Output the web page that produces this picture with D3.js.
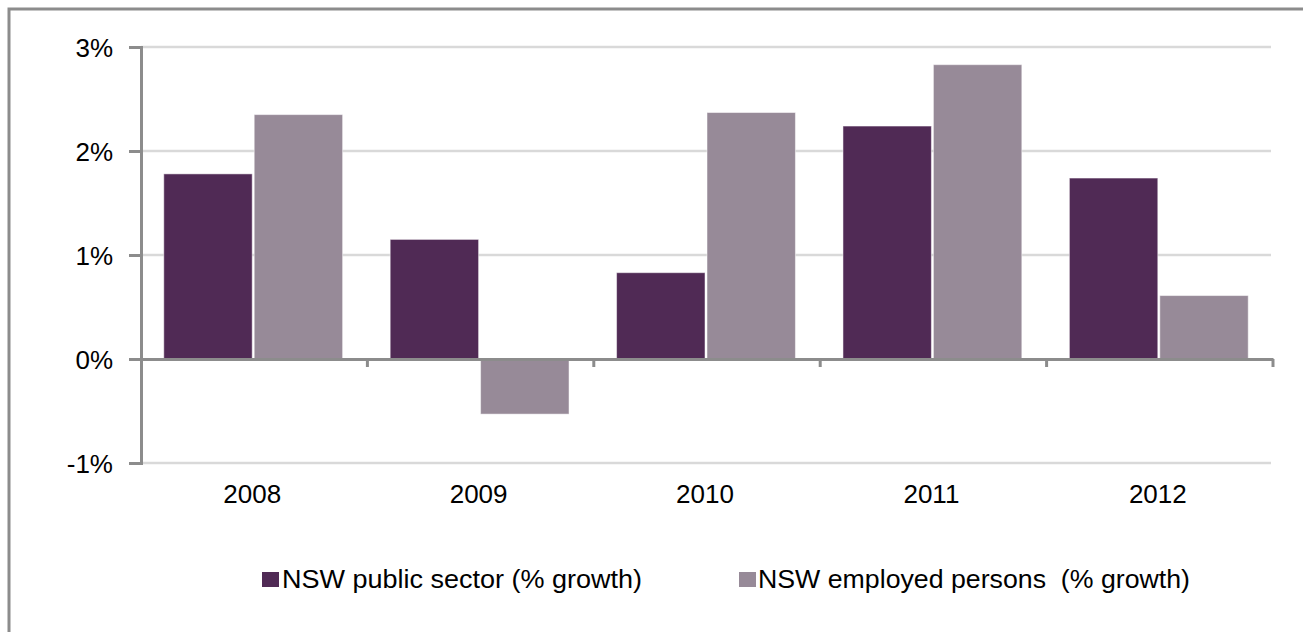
<!DOCTYPE html>
<html>
<head>
<meta charset="utf-8">
<script src="https://cdn.jsdelivr.net/npm/d3@7"></script>
<style>
  html, body { margin: 0; padding: 0; background: #fff; }
  svg { display: block; font-family: "Liberation Sans", Arial, sans-serif; }
</style>
</head>
<body>
<svg id="chart" width="1303" height="632"></svg>
<script>
// Annual growth, NSW
const years = ["2008", "2009", "2010", "2011", "2012"];
const publicSector = [1.78, 1.15, 0.83, 2.24, 1.74];
const employedPersons = [2.35, -0.53, 2.37, 2.83, 0.61];
const seriesNames = ["NSW public sector (% growth)", "NSW employed persons  (% growth)"];
const seriesColors = ["#502a55", "#978a98"];
const yTicks = [-1, 0, 1, 2, 3];

const svg = d3.select("#chart");

// outer frame
svg.append("rect")
  .attr("x", 9).attr("y", 9)
  .attr("width", 1400).attr("height", 800)
  .attr("fill", "none").attr("stroke", "#8c8c8c").attr("stroke-width", 3);

const plotLeft = 141, plotRight = 1273, plotTop = 47, plotBottom = 463;

const y = d3.scaleLinear().domain([-1, 3]).range([plotBottom, plotTop]);
const x0 = d3.scaleBand().domain(years).range([plotLeft - 1, plotRight - 1]).paddingInner(0.21).paddingOuter(0.105);
const x1 = d3.scaleBand().domain([0, 1]).range([0, x0.bandwidth()]).paddingInner(0.022);
const xCat = d3.scaleBand().domain(years).range([plotLeft, plotRight]);

// gridlines
svg.append("g").selectAll("line")
  .data(yTicks.filter(d => d !== 0))
  .join("line")
  .attr("x1", plotLeft).attr("x2", plotRight - 2)
  .attr("y1", d => y(d)).attr("y2", d => y(d))
  .attr("stroke", "#d9d9d9").attr("stroke-width", 2.5);

// bars
const rows = years.map((yr, i) => ({ yr, vals: [publicSector[i], employedPersons[i]] }));
const groups = svg.append("g").selectAll("g")
  .data(rows).join("g")
  .attr("transform", d => `translate(${x0(d.yr)},0)`);
groups.selectAll("rect")
  .data(d => d.vals.map((v, k) => ({ v, k })))
  .join("rect")
  .attr("x", d => x1(d.k))
  .attr("width", x1.bandwidth())
  .attr("y", d => y(Math.max(0, d.v)))
  .attr("height", d => Math.abs(y(d.v) - y(0)))
  .attr("fill", d => seriesColors[d.k])
  .attr("stroke", "#ffffff").attr("stroke-opacity", 0.5).attr("stroke-width", 1);

// y axis
const yAxis = d3.axisLeft(y).tickValues(yTicks).tickSize(12).tickFormat(d => d + "%");
const gy = svg.append("g").attr("transform", `translate(${plotLeft},0)`).call(yAxis);
gy.select(".domain").attr("stroke", "#8c8c8c").attr("stroke-width", 3);
gy.selectAll(".tick line").attr("stroke", "#8c8c8c").attr("stroke-width", 3);
gy.selectAll(".tick text")
  .attr("x", -28).attr("dy", "0.36em")
  .attr("fill", "#000").attr("font-size", 26)
  .attr("font-family", "Liberation Sans, Arial, sans-serif");

// x axis along zero
const xAxis = d3.axisBottom(xCat).tickSize(0).tickFormat("");
const gx = svg.append("g").attr("transform", `translate(0,${y(0)})`).call(xAxis);
gx.select(".domain").attr("stroke", "#8c8c8c").attr("stroke-width", 3);
gx.selectAll(".tick").remove();
// category boundary ticks
const bounds = years.map(yr => xCat(yr) + xCat.bandwidth());
gx.selectAll("line.bt").data(bounds).join("line")
  .attr("class", "bt")
  .attr("x1", d => d).attr("x2", d => d)
  .attr("y1", 0).attr("y2", 8)
  .attr("stroke", "#8c8c8c").attr("stroke-width", 3);

// category labels
svg.append("g").selectAll("text")
  .data(years).join("text")
  .attr("x", d => xCat(d) + xCat.bandwidth() / 2 - 2)
  .attr("y", 503)
  .attr("text-anchor", "middle")
  .attr("font-size", 26).attr("fill", "#000")
  .text(d => d);

// legend
const legendItems = [
  { name: seriesNames[0], color: seriesColors[0], sx: 262, tx: 282, w: 360 },
  { name: seriesNames[1], color: seriesColors[1], sx: 739, tx: 758, w: 432 }
];
const lg = svg.append("g");
lg.selectAll("rect").data(legendItems).join("rect")
  .attr("x", d => d.sx).attr("y", 572)
  .attr("width", 17).attr("height", 15)
  .attr("fill", d => d.color);
lg.selectAll("text").data(legendItems).join("text")
  .attr("x", d => d.tx).attr("y", 588)
  .attr("font-size", 25).attr("fill", "#000")
  .attr("textLength", d => d.w).attr("lengthAdjust", "spacingAndGlyphs")
  .style("white-space", "pre")
  .text(d => d.name);
</script>
</body>
</html>
